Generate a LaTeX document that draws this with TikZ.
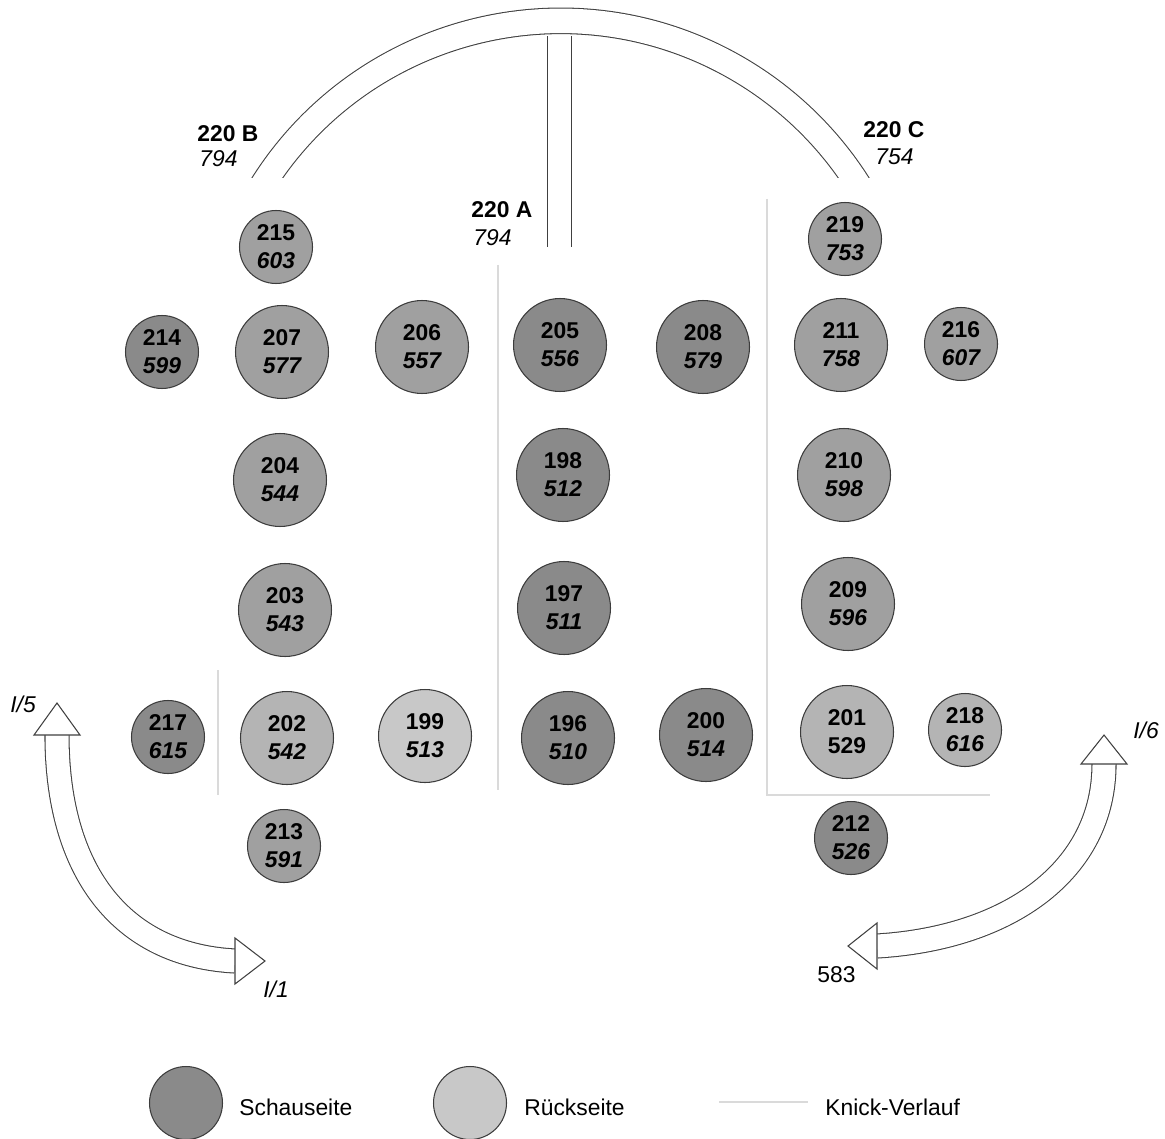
\documentclass[tikz,border=0pt]{standalone}
\usepackage{fontspec}
\setmainfont{Liberation Sans}
\newfontfamily\steinfett{Liberation Sans Bold}
\newfontfamily\steinkursiv{Liberation Sans Bold Italic}
\usetikzlibrary{positioning}
\definecolor{GrauDunkel}{RGB}{138,138,138}
\definecolor{GrauMittel}{RGB}{160,160,160}
\definecolor{GrauHell}{RGB}{180,180,180}
\definecolor{GrauBlass}{RGB}{200,200,200}
\definecolor{GrauRand}{RGB}{60,60,60}
\definecolor{KnickGrau}{RGB}{218,218,218}
\newcommand{\stn}[2]{{\steinfett #1}\\{\steinkursiv #2}}

\begin{document}
\begin{tikzpicture}[x=0.02cm, y=-0.02cm,
    stein/.style={circle, draw=GrauRand, line width=0.6pt, align=center, inner sep=0pt,
      font=\fontsize{13}{16}\selectfont, minimum size=1.86cm},
    klein/.style={stein, minimum size=1.46cm},
    schau/.style={fill=GrauDunkel},
    mittel/.style={fill=GrauMittel},
    rueck/.style={fill=GrauHell},
    blass/.style={fill=GrauBlass},
    knick/.style={draw=KnickGrau, line width=1.2pt},
    band/.style={draw=black!75, line width=0.6pt, double=white, double distance=0.46cm},
    spitze/.style={draw=black!75, line width=0.6pt, fill=white, line join=miter},
    marke/.style={font=\fontsize{13}{15}\selectfont, inner sep=0pt, anchor=base west}
  ]
    \useasboundingbox (0,0) rectangle (1165,1138);

    % Knick-Verlauf
    \draw[knick] (218,670) -- (218,795);
    \draw[knick] (498,265) -- (498,790);
    \draw[knick] (767,199) -- (767,795) -- (990,795);

    % Bogen 220
    \draw[band] (559.5,36) -- (559.5,247);
    \begin{scope}
      \clip (0,0) rectangle (1165,178);
      \draw[band, double distance=0.49cm] (255.3,197.1) arc[start angle=150, end angle=30, radius=7.05cm];
    \end{scope}
    \node[marke] (lB) at (197,142) {\bfseries 220 B};
    \node[marke] (lBz) at (199,167) {\itshape 794};
    \node[marke] (lA) at (471,218) {\bfseries 220 A};
    \node[marke] (lAz) at (473,246) {\itshape 794};
    \node[marke] (lC) at (863,138) {\bfseries 220 C};
    \node[marke] (lCz) at (875,165) {\itshape 754};

    % Steine
    \node[klein, mittel] (s215) at (276,247) {\stn{215}{603}};
    \node[klein, mittel] (s219) at (845,239) {\stn{219}{753}};
    \node[klein, schau] (s214) at (162,352) {\stn{214}{599}};
    \node[stein, mittel] (s207) at (282,352) {\stn{207}{577}};
    \node[stein, mittel] (s206) at (422,347) {\stn{206}{557}};
    \node[stein, schau] (s205) at (560,345) {\stn{205}{556}};
    \node[stein, schau] (s208) at (703,347) {\stn{208}{579}};
    \node[stein, mittel] (s211) at (841,345) {\stn{211}{758}};
    \node[klein, mittel] (s216) at (961,344) {\stn{216}{607}};
    \node[stein, mittel] (s204) at (280,480) {\stn{204}{544}};
    \node[stein, schau] (s198) at (563,475) {\stn{198}{512}};
    \node[stein, mittel] (s210) at (844,475) {\stn{210}{598}};
    \node[stein, mittel] (s203) at (285,610) {\stn{203}{543}};
    \node[stein, schau] (s197) at (564,608) {\stn{197}{511}};
    \node[stein, mittel] (s209) at (848,604) {\stn{209}{596}};
    \node[klein, schau] (s217) at (168,737) {\stn{217}{615}};
    \node[stein, rueck] (s202) at (287,738) {\stn{202}{542}};
    \node[stein, blass] (s199) at (425,736) {\stn{199}{513}};
    \node[stein, schau] (s196) at (568,738) {\stn{196}{510}};
    \node[stein, schau] (s200) at (706,735) {\stn{200}{514}};
    \node[stein, rueck] (s201) at (847,732) {{\steinfett 201}\\{\steinfett 529}};
    \node[klein, rueck] (s218) at (965,730) {\stn{218}{616}};
    \node[klein, mittel] (s213) at (284,846) {\stn{213}{591}};
    \node[klein, schau] (s212) at (851,838) {\stn{212}{526}};

    % Drehpfeile
    \coordinate (p5) at (57,735);
    \coordinate (p1) at (235,961);
    \draw[band] (p5) .. controls (57,870) and (120,955) .. (p1);
    \draw[spitze] (p5) ++(-23,0) -- ++(23,-32) -- ++(23,32) -- cycle;
    \draw[spitze] (p1) ++(0,-23) -- ++(30,23) -- ++(-30,23) -- cycle;
    \node[marke] (l5) at (10,712) {\itshape I/5};
    \node[marke] (l1) at (263,997) {\itshape I/1};

    \coordinate (p6) at (1104,764);
    \coordinate (p583) at (877,946);
    \draw[band] (p6) .. controls (1104,870) and (1010,938) .. (p583);
    \draw[spitze] (p6) ++(-23,0) -- ++(23,-29) -- ++(23,29) -- cycle;
    \draw[spitze] (p583) ++(0,-23) -- ++(-29,23) -- ++(29,23) -- cycle;
    \node[marke] (l6) at (1133,738) {\itshape I/6};
    \node[marke] (l583) at (817,982) {583};

    % Legende
    \node[klein, schau] (legS) at (186,1103) {};
    \node[marke] (txtS) at (239,1115) {Schauseite};
    \node[klein, blass] (legR) at (470,1103) {};
    \node[marke] (txtR) at (524,1115) {R\"uckseite};
    \draw[knick] (719,1102) -- (808,1102);
    \node[marke] (txtK) at (825,1115) {Knick-Verlauf};
  \end{tikzpicture}
\end{document}
